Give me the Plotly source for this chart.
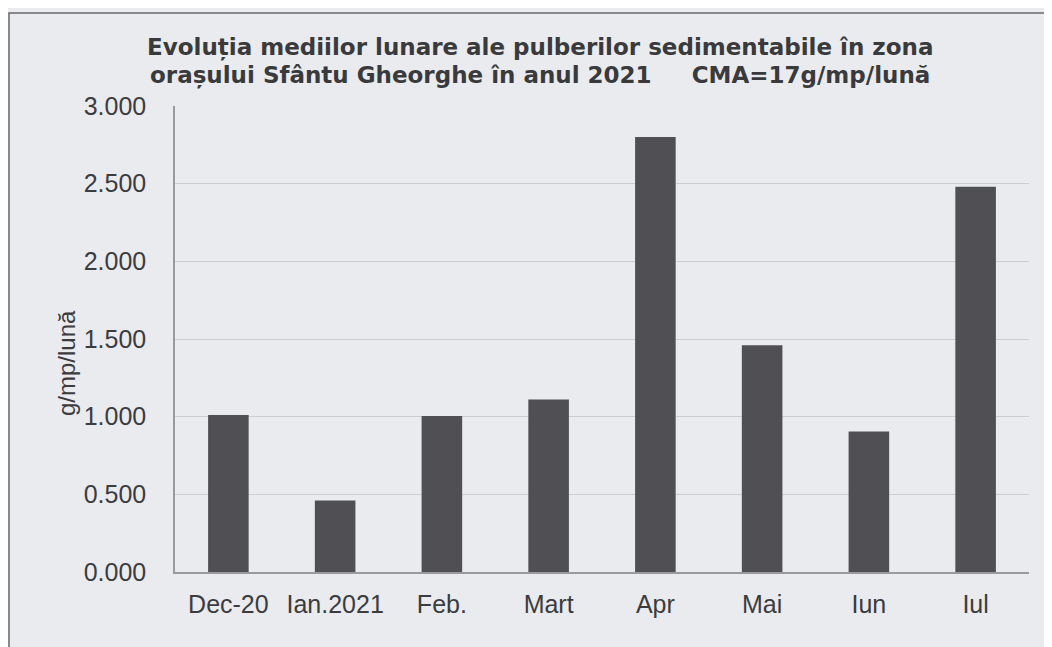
import plotly.graph_objects as go

categories = ["Dec-20", "Ian.2021", "Feb.", "Mart", "Apr", "Mai", "Iun", "Iul"]
values = [1.01, 0.46, 1.005, 1.11, 2.80, 1.46, 0.905, 2.48]
y_tick_vals = [0, 0.5, 1.0, 1.5, 2.0, 2.5, 3.0]
y_tick_text = ["0.000", "0.500", "1.000", "1.500", "2.000", "2.500", "3.000"]
title_line1 = "Evoluția mediilor lunare ale pulberilor sedimentabile în zona"
title_line2 = "orașului Sfântu Gheorghe în anul 2021\u00a0\u00a0\u00a0\u00a0\u00a0CMA=17g/mp/lună"
y_title = "g/mp/lună"

FONT = "Liberation Sans, Arial, sans-serif"
TITLE_FONT = "DejaVu Sans, sans-serif"
TXT = "#3c3c3e"

# plot area in screen pixels (page has an 8px body margin)
PL, PR, PT, PB = 175, 1029, 106, 572
OFF = 8


def px(sx):
    return (sx - PL) / (PR - PL)


def py(sy):
    return (PB - sy) / (PB - PT)


fig = go.Figure(
    go.Bar(x=categories, y=values, marker=dict(color="#505054", line=dict(width=0)),
           hoverinfo="x+y")
)

fig.update_layout(
    width=1052, height=647,
    paper_bgcolor="#e9ebee", plot_bgcolor="#e9ebee",
    margin=dict(l=PL - OFF, r=1052 - (PR - OFF), t=PT - OFF, b=647 - (PB - OFF)),
    bargap=0.62,
    showlegend=False,
    font=dict(family=FONT, color=TXT),
)

fig.update_xaxes(
    showgrid=False, showline=True, linecolor="#9a9a9c", linewidth=1.5,
    ticks="", tickfont=dict(size=25, color=TXT), ticklabelstandoff=9,
)
fig.update_yaxes(
    range=[0, 3.0], tickvals=y_tick_vals, ticktext=y_tick_text,
    showgrid=True, gridcolor="#cdced1", gridwidth=1,
    showline=True, linecolor="#9a9a9c", linewidth=1.5,
    zeroline=False, ticks="", tickfont=dict(size=25, color=TXT),
    ticklabelstandoff=22,
)

for txt, sy in ((title_line1, 47), (title_line2, 75)):
    fig.add_annotation(text="<b>" + txt + "</b>", xref="paper", yref="paper",
                       x=px(540), y=py(sy), xanchor="center", yanchor="middle",
                       showarrow=False,
                       font=dict(size=23, color="#3a3a3c", family=TITLE_FONT))

fig.add_annotation(text=y_title, xref="paper", yref="paper",
                   x=px(67), y=py(363),
                   xanchor="center", yanchor="middle", textangle=-90,
                   showarrow=False, font=dict(size=24, color=TXT, family=FONT))

# outer chart frame
fig.add_shape(type="rect", xref="paper", yref="paper",
              x0=px(9), x1=px(1070), y0=py(670), y1=py(13),
              line=dict(color="#6a6a6c", width=1.5), fillcolor="rgba(0,0,0,0)",
              layer="below")

fig.write_html("out.html")
